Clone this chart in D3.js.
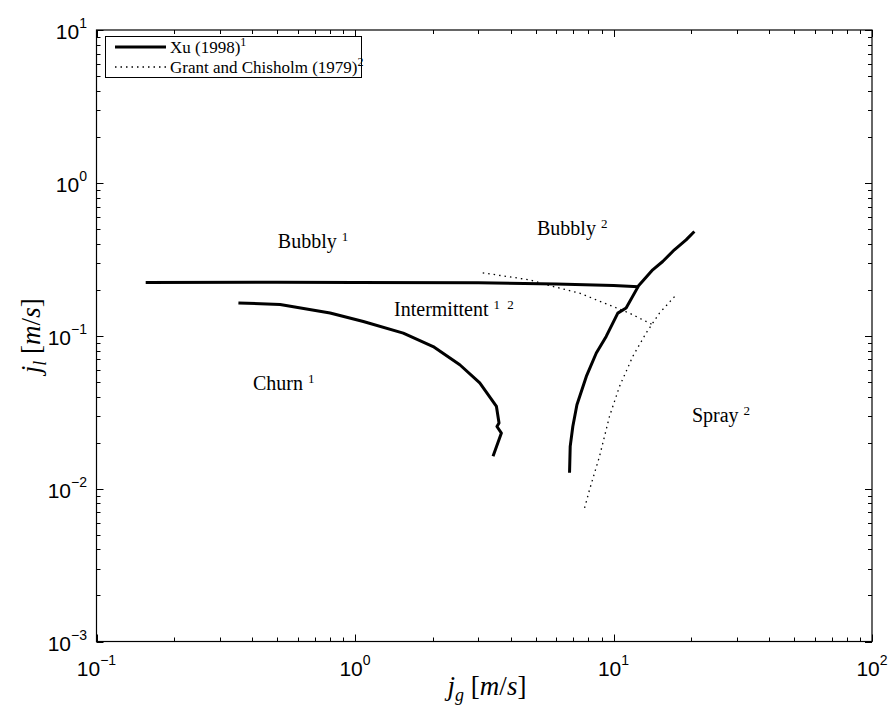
<!DOCTYPE html>
<html>
<head>
<meta charset="utf-8">
<script src="https://cdn.jsdelivr.net/npm/d3@7"></script>
<style>
  body { margin: 0; background: #fff; }
  svg { display: block; }
  .tick-label { font-family: "Liberation Sans", Arial, sans-serif; font-size: 21px; }
  .serif { font-family: "Liberation Serif", "DejaVu Serif", serif; }
</style>
</head>
<body>
<svg id="chart" width="894" height="716"></svg>
<script>
// --- data ---
const xuTransition = [[0.155, 0.223], [0.5, 0.224], [1, 0.223], [3, 0.222], [6, 0.218], [10, 0.213], [12.5, 0.209]];
const xuChurn = [[0.354, 0.164], [0.513, 0.160], [0.801, 0.141], [1.077, 0.124], [1.537, 0.104], [2.006, 0.085],
  [2.543, 0.0646], [3.038, 0.0491], [3.525, 0.0345], [3.607, 0.0269], [3.541, 0.0255], [3.684, 0.0231], [3.42, 0.0163]];
const xuSpray = [[6.76, 0.0127], [6.80, 0.0189], [6.96, 0.0255], [7.22, 0.0354], [7.85, 0.0542], [8.58, 0.0771],
  [9.37, 0.099], [10.39, 0.1406], [11.19, 0.1517], [12.5, 0.212], [14.18, 0.270], [15.5, 0.306], [17.2, 0.365],
  [19.09, 0.424], [20.55, 0.481]];
const grantTop = [[3.12, 0.258], [4.74, 0.232], [5.50, 0.2155], [7.39, 0.190], [9.94, 0.1554], [11.53, 0.1406], [14.18, 0.118]];
const grantSpray = [[7.73, 0.00748], [8.08, 0.00985], [8.83, 0.01626], [9.65, 0.0297], [10.55, 0.0466],
  [11.87, 0.0732], [13.37, 0.1042], [15.06, 0.1406], [17.46, 0.185]];

const xDecades = [-1, 0, 1, 2];
const yDecades = [-3, -2, -1, 0, 1];

const regionLabels = [
  { name: "Bubbly", sup: "1", x: 0.503, y: 0.375 },
  { name: "Bubbly", sup: "2", x: 5.06, y: 0.456 },
  { name: "Intermittent", sup: "1 2", x: 1.416, y: 0.1347 },
  { name: "Churn", sup: "1", x: 0.403, y: 0.0442 },
  { name: "Spray", sup: "2", x: 20.1, y: 0.0273 }
];

const legendItems = [
  { name: "Xu (1998)", sup: "1", dotted: false },
  { name: "Grant and Chisholm (1979)", sup: "2", dotted: true }
];

// --- layout ---
const plotLeft = 96.5, plotRight = 872, plotTop = 30, plotBottom = 641.5;
const svg = d3.select("#chart");

const x = d3.scaleLog().domain([0.1, 100]).range([plotLeft, plotRight]);
const y = d3.scaleLog().domain([0.001, 10]).range([plotBottom, plotTop]);

// minor + major tick values
function logTicks(decades) {
  const major = decades.map(d => Math.pow(10, d));
  const minor = [];
  for (let i = 0; i < decades.length - 1; i++) {
    for (let k = 2; k <= 9; k++) minor.push(k * Math.pow(10, decades[i]));
  }
  return { major, minor };
}
const xt = logTicks(xDecades);
const yt = logTicks(yDecades);

const tickG = svg.append("g").attr("stroke", "#000").attr("stroke-width", 1);
const majorLen = 7, minorLen = 4;

function addXTicks(vals, len) {
  vals.forEach(v => {
    const px = Math.round(x(v)) + 0.5;
    tickG.append("line").attr("x1", px).attr("x2", px).attr("y1", plotBottom).attr("y2", plotBottom - len);
    tickG.append("line").attr("x1", px).attr("x2", px).attr("y1", plotTop).attr("y2", plotTop + len);
  });
}
function addYTicks(vals, len) {
  vals.forEach(v => {
    const py = Math.round(y(v)) + 0.5;
    tickG.append("line").attr("y1", py).attr("y2", py).attr("x1", plotLeft).attr("x2", plotLeft + len);
    tickG.append("line").attr("y1", py).attr("y2", py).attr("x1", plotRight).attr("x2", plotRight - len);
  });
}
addXTicks(xt.minor, minorLen);
addXTicks(xt.major, majorLen);
addYTicks(yt.minor, minorLen);
addYTicks(yt.major, majorLen);

// axes box
svg.append("rect")
  .attr("x", plotLeft).attr("y", plotTop)
  .attr("width", plotRight - plotLeft).attr("height", plotBottom - plotTop)
  .attr("fill", "none").attr("stroke", "#000").attr("stroke-width", 1.2);

// tick labels
xDecades.forEach(d => {
  const t = svg.append("text").attr("class", "tick-label")
    .attr("x", x(Math.pow(10, d))).attr("y", 676).attr("text-anchor", "middle");
  t.append("tspan").text("10");
  t.append("tspan").attr("dy", -11).attr("font-size", 14).text(d < 0 ? "\u2212" + (-d) : d);
});
yDecades.forEach(d => {
  const t = svg.append("text").attr("class", "tick-label")
    .attr("x", 87).attr("y", y(Math.pow(10, d)) + 9).attr("text-anchor", "end");
  t.append("tspan").text("10");
  t.append("tspan").attr("dy", -11).attr("font-size", 14).text(d < 0 ? "\u2212" + (-d) : d);
});

// axis titles
function mathLabel(sel, sub) {
  sel.append("tspan").attr("font-style", "italic").text("j");
  sel.append("tspan").attr("font-style", "italic").attr("font-size", 18).attr("dy", 6).text(sub);
  sel.append("tspan").attr("dy", -6).text(" [");
  sel.append("tspan").attr("font-style", "italic").text("m");
  sel.append("tspan").text("/");
  sel.append("tspan").attr("font-style", "italic").text("s");
  sel.append("tspan").text("]");
}
const xTitle = svg.append("text").attr("class", "serif").attr("font-size", 27)
  .attr("x", 487).attr("y", 695).attr("text-anchor", "middle");
mathLabel(xTitle, "g");
const yTitle = svg.append("text").attr("class", "serif").attr("font-size", 27)
  .attr("text-anchor", "middle")
  .attr("transform", `translate(40,${(plotTop + plotBottom) / 2}) rotate(-90)`);
mathLabel(yTitle, "l");

// curves
const line = d3.line().x(d => x(d[0])).y(d => y(d[1]));
const plotG = svg.append("g").attr("fill", "none");
[xuTransition, xuChurn, xuSpray].forEach(s => {
  plotG.append("path").attr("d", line(s)).attr("stroke", "#000")
    .attr("stroke-width", 3).attr("stroke-linejoin", "round");
});
[grantTop, grantSpray].forEach(s => {
  plotG.append("path").attr("d", line(s)).attr("stroke", "#000")
    .attr("stroke-width", 1.3).attr("stroke-dasharray", "1.5,4");
});

// region labels
regionLabels.forEach(r => {
  const t = svg.append("text").attr("class", "serif").attr("font-size", 20)
    .attr("x", x(r.x)).attr("y", y(r.y));
  t.append("tspan").text(r.name + " ");
  t.append("tspan").attr("dy", -7).attr("font-size", 13).attr("word-spacing", 4).text(r.sup);
});

// legend
const lg = svg.append("g");
lg.append("rect").attr("x", 105.5).attr("y", 36.5).attr("width", 256).attr("height", 41)
  .attr("fill", "#fff").attr("stroke", "#000").attr("stroke-width", 1);
legendItems.forEach((it, i) => {
  const cy = 47 + i * 20;
  lg.append("line").attr("x1", 115).attr("x2", 166).attr("y1", cy).attr("y2", cy)
    .attr("stroke", "#000")
    .attr("stroke-width", it.dotted ? 1.3 : 3)
    .attr("stroke-dasharray", it.dotted ? "1.5,4" : null);
  const t = lg.append("text").attr("class", "serif").attr("font-size", 17)
    .attr("x", 170).attr("y", cy + 6);
  t.append("tspan").text(it.name);
  t.append("tspan").attr("dy", -7).attr("font-size", 12).text(it.sup);
});
</script>
</body>
</html>
